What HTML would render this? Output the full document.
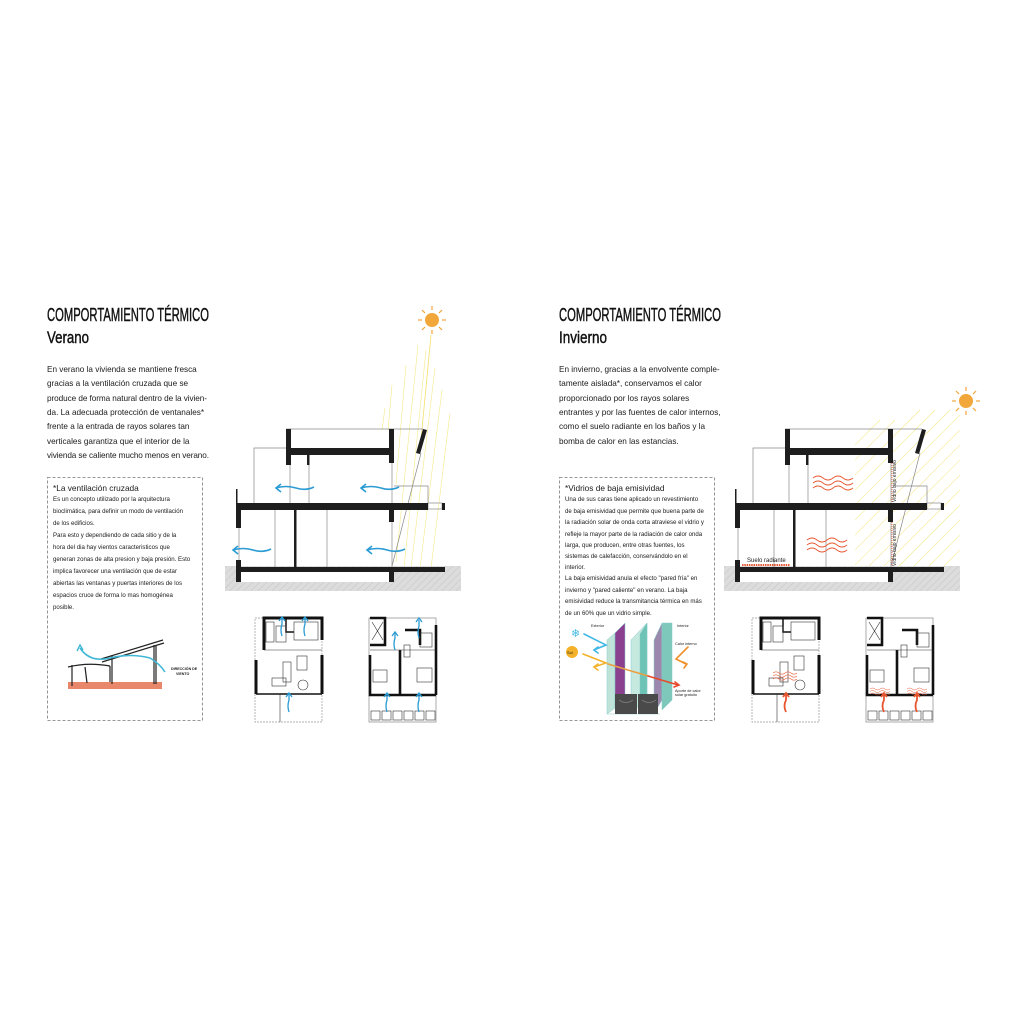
<!DOCTYPE html>
<html><head><meta charset="utf-8"><style>
html,body{margin:0;padding:0;background:#fff;}
svg{display:block;}
text{font-family:"Liberation Sans",sans-serif;fill:#1a1a1a;}
.h{font-family:"Liberation Sans Narrow","Liberation Sans",sans-serif;fill:#111;stroke:#111;stroke-width:0.45;}
.b{font-size:8.2px;}
.s{font-size:6.1px;}
</style></head><body>
<svg width="1024" height="1024" viewBox="0 0 1024 1024" xmlns="http://www.w3.org/2000/svg">
<defs>
<pattern id="hat" width="5" height="5" patternUnits="userSpaceOnUse" patternTransform="rotate(45)">
<rect width="5" height="5" fill="#dcdcdc"/><line x1="0" y1="0" x2="0" y2="5" stroke="#c4c4c4" stroke-width="1"/>
</pattern>
<g id="sec">
<rect x="225" y="566" width="236" height="25" fill="url(#hat)"/>
<rect x="241" y="572" width="148" height="10" fill="#fff"/>
<g fill="none" stroke="#888" stroke-width="0.7">
<line x1="286" y1="429" x2="423" y2="429"/>
<polyline points="286,448 254,448 254,503"/>
<polyline points="394,486 428,486 428,503"/>
<line x1="275" y1="509" x2="275" y2="567"/>
<line x1="327" y1="509" x2="327" y2="567"/>
<line x1="421" y1="453" x2="392" y2="566"/>
<rect x="428" y="503" width="14" height="6"/>
<line x1="290" y1="465" x2="290" y2="503"/>
<line x1="309" y1="465" x2="309" y2="503"/>
<line x1="392" y1="463" x2="392" y2="503"/>
<line x1="239" y1="528" x2="239" y2="560"/>
<line x1="392" y1="522" x2="392" y2="567"/>
</g>
<g fill="#1e1e1e">
<rect x="286" y="429" width="5" height="36"/>
<rect x="286" y="448" width="108" height="7"/>
<rect x="389" y="429" width="5" height="34"/>
<rect x="307" y="454" width="2.5" height="11"/>
<rect x="236" y="503" width="192" height="7"/>
<rect x="442" y="503" width="3" height="7"/>
<rect x="236" y="489" width="1.5" height="14"/>
<rect x="236" y="509" width="5" height="19"/>
<rect x="236" y="560" width="5" height="22"/>
<rect x="294" y="509" width="2.5" height="58"/>
<rect x="389" y="509" width="5" height="13"/>
<rect x="389" y="567" width="5" height="15"/>
<rect x="241" y="567" width="204" height="5"/>
<polygon points="423,429 427,430 420,454 416,453"/>
</g>
</g>
<g id="plan1">
<rect x="255" y="618" width="67" height="104" fill="none" stroke="#999" stroke-width="0.7" stroke-dasharray="2,1"/>
<g fill="none" stroke="#111" stroke-width="3">
<polyline points="264,650 264,618 322,618 322,640"/>
<polyline points="256,660 256,694"/>
<polyline points="322,655 322,694"/>
<line x1="256" y1="694" x2="322" y2="694" stroke-width="1.4"/>
<polyline points="286,618 286,632 294,632" stroke-width="1.5"/>
</g>
<g fill="none" stroke="#333" stroke-width="0.6">
<rect x="266" y="622" width="8" height="20"/>
<rect x="276" y="626" width="10" height="16"/>
<rect x="294" y="622" width="24" height="18"/>
<line x1="264" y1="650" x2="322" y2="650"/>
<rect x="283" y="662" width="8" height="20"/>
<rect x="272" y="678" width="14" height="8"/>
<circle cx="303" cy="685" r="5"/>
<rect x="297" y="656" width="10" height="14"/>
<line x1="280" y1="694" x2="280" y2="722"/>
</g>
</g>
<g id="plan2">
<rect x="369" y="618" width="67" height="104" fill="none" stroke="#888" stroke-width="0.7"/>
<g fill="none" stroke="#111" stroke-width="2.6">
<polyline points="370,618 385,618 385,645 370,645"/>
<polyline points="370,655 370,695 436,695"/>
<polyline points="436,625 436,695"/>
<polyline points="405,630 420,630 420,645"/>
<line x1="400" y1="650" x2="400" y2="695"/>
</g>
<g fill="none" stroke="#333" stroke-width="0.6">
<line x1="372" y1="622" x2="383" y2="640"/>
<line x1="372" y1="640" x2="383" y2="622"/>
<rect x="373" y="670" width="14" height="12"/>
<rect x="417" y="668" width="15" height="14"/>
<line x1="370" y1="650" x2="436" y2="650"/>
<rect x="420" y="633" width="12" height="14"/>
<rect x="404" y="645" width="6" height="12"/>
<g>
<rect x="371" y="711" width="9" height="9"/><rect x="382" y="711" width="9" height="9"/><rect x="393" y="711" width="9" height="9"/><rect x="404" y="711" width="9" height="9"/><rect x="415" y="711" width="9" height="9"/><rect x="426" y="711" width="9" height="9"/>
</g>
</g>
</g>
<g id="sun">
<circle cx="0" cy="0" r="7" fill="#f2a73a"/>
<g stroke="#f2a73a" stroke-width="1.2">
<line x1="0" y1="-10" x2="0" y2="-14"/><line x1="0" y1="10" x2="0" y2="14"/>
<line x1="-10" y1="0" x2="-14" y2="0"/><line x1="10" y1="0" x2="14" y2="0"/>
<line x1="7" y1="7" x2="10" y2="10"/><line x1="-7" y1="-7" x2="-10" y2="-10"/>
<line x1="7" y1="-7" x2="10" y2="-10"/><line x1="-7" y1="7" x2="-10" y2="10"/>
</g>
</g>
<g id="wav" fill="none" stroke="#e8552f" stroke-width="1">
<path d="M0,0 q5,-4 10,0 t10,0 t10,0 t10,0"/>
<path d="M0,5 q5,-4 10,0 t10,0 t10,0 t10,0"/>
<path d="M0,10 q5,-4 10,0 t10,0 t10,0 t10,0"/>
</g>
<clipPath id="wc"><polygon points="855,400 960,385 960,568 855,568"/></clipPath>
</defs>

<!-- LEFT PAGE -->
<text class="h" x="47" y="321" font-size="18" textLength="162" lengthAdjust="spacingAndGlyphs">COMPORTAMIENTO TÉRMICO</text>
<text class="h" x="47" y="343" font-size="17" textLength="42" lengthAdjust="spacingAndGlyphs">Verano</text>
<text class="b" x="47" y="372">En verano la vivienda se mantiene fresca</text>
<text class="b" x="47" y="386">gracias a la ventilación cruzada que se</text>
<text class="b" x="47" y="401" textLength="160">produce de forma natural dentro de la vivien-</text>
<text class="b" x="47" y="415" textLength="157">da. La adecuada protección de ventanales*</text>
<text class="b" x="47" y="429">frente a la entrada de rayos solares tan</text>
<text class="b" x="47" y="444">verticales  garantiza que el interior de la</text>
<text class="b" x="47" y="458" textLength="162">vivienda se caliente mucho menos en verano.</text>

<rect x="47.5" y="477.5" width="155" height="243" fill="none" stroke="#777" stroke-width="0.8" stroke-dasharray="3,2"/>
<text x="53" y="491" font-size="8.3">*La ventilación cruzada</text>
<text class="s" x="53" y="501">Es un concepto utilizado por la arquitectura</text>
<text class="s" x="53" y="513">bioclimática, para definir un modo de ventilación</text>
<text class="s" x="53" y="525">de los edificios.</text>
<text class="s" x="53" y="537">Para esto y dependiendo de cada sitio y de la</text>
<text class="s" x="53" y="549">hora del dia hay vientos caracteristicos que</text>
<text class="s" x="53" y="561">generan zonas de alta presion y baja presión. Esto</text>
<text class="s" x="53" y="573">implica favorecer una ventilación que de estar</text>
<text class="s" x="53" y="585">abiertas las ventanas y puertas interiores de los</text>
<text class="s" x="53" y="597">espacios cruce de forma lo mas homogénea</text>
<text class="s" x="53" y="609">posible.</text>
<!-- sketch -->
<rect x="68" y="682" width="94" height="7" fill="#e8876a"/>
<g fill="none" stroke="#222" stroke-width="1.2">
<path d="M68,667 q20,-5 42,-1"/>
<line x1="72" y1="665" x2="72" y2="686"/>
<line x1="85" y1="667" x2="87" y2="683"/>
<line x1="110" y1="666" x2="110" y2="682"/>
<line x1="101" y1="659" x2="163" y2="640"/>
<line x1="102" y1="662" x2="164" y2="643"/>
<line x1="112" y1="655" x2="112" y2="684"/>
<line x1="154" y1="645" x2="154" y2="684"/>
<line x1="156" y1="645" x2="156" y2="684"/>
</g>
<path d="M80,648 q10,15 30,10 t40,0 q10,6 15,14" fill="none" stroke="#3fb8d6" stroke-width="1.6"/>
<path d="M77,651 l3,-6 l3,5" fill="none" stroke="#3fb8d6" stroke-width="1.4"/>
<text x="171" y="670" font-size="3.6" font-weight="bold">DIRECCIÓN DE</text>
<text x="176" y="675" font-size="3.6" font-weight="bold">VIENTO</text>

<!-- summer section -->
<g stroke="#f3ea8a" stroke-width="0.6">
<line x1="385" y1="408" x2="382" y2="430"/>
<line x1="392" y1="385" x2="388" y2="430"/>
<line x1="406" y1="365" x2="396" y2="484"/>
<line x1="418" y1="345" x2="396" y2="562"/>
<line x1="426" y1="350" x2="404" y2="568"/>
<line x1="435" y1="368" x2="411" y2="568"/>
<line x1="442" y1="390" x2="420" y2="568"/>
<line x1="450" y1="413" x2="431" y2="568"/>
</g>
<line x1="431" y1="335" x2="420" y2="450" stroke="#f3e06a" stroke-width="0.8"/>
<use href="#sun" transform="translate(432,320)"/>
<use href="#sec"/>
<g fill="none" stroke="#2b9bd4" stroke-width="1.6">
<path d="M276,488 q10,-3 20,0 t18,-1"/><path d="M281,484 l-5,4 l5,4"/>
<path d="M361,488 q10,-3 20,0 t18,-1"/><path d="M366,484 l-5,4 l5,4"/>
<path d="M233,550 q10,-3 20,0 t18,-1"/><path d="M238,546 l-5,4 l5,4"/>
<path d="M367,550 q10,-3 20,0 t18,-1"/><path d="M372,546 l-5,4 l5,4"/>
</g>
<use href="#plan1"/>
<use href="#plan2"/>
<g fill="none" stroke="#2b9bd4" stroke-width="1.3">
<path d="M282,636 q-2,-6 0,-12 v-6"/><path d="M279,621 l3,-4 l3,4"/>
<path d="M305,636 q-2,-6 0,-12 v-6"/><path d="M302,621 l3,-4 l3,4"/>
<path d="M289,712 q-2,-6 0,-12 v-6"/><path d="M286,697 l3,-4 l3,4"/>
<path d="M419,638 q-2,-6 0,-12 v-6"/><path d="M416,622 l3,-4 l3,4"/>
<path d="M395,650 q-2,-6 0,-12 v-6"/><path d="M392,636 l3,-4 l3,4"/>
<path d="M387,712 q-2,-6 0,-12 v-6"/><path d="M384,697 l3,-4 l3,4"/>
<path d="M419,712 q-2,-6 0,-12 v-6"/><path d="M416,697 l3,-4 l3,4"/>
</g>

<!-- RIGHT PAGE -->
<text class="h" x="559" y="321" font-size="18" textLength="162" lengthAdjust="spacingAndGlyphs">COMPORTAMIENTO TÉRMICO</text>
<text class="h" x="559" y="343" font-size="17" textLength="48" lengthAdjust="spacingAndGlyphs">Invierno</text>
<text class="b" x="559" y="372">En invierno, gracias a la envolvente comple-</text>
<text class="b" x="559" y="386">tamente aislada*, conservamos el calor</text>
<text class="b" x="559" y="401">proporcionado por los rayos solares</text>
<text class="b" x="559" y="415">entrantes y por las fuentes de calor internos,</text>
<text class="b" x="559" y="429">como el suelo radiante en los baños y la</text>
<text class="b" x="559" y="444">bomba de calor en las estancias.</text>

<rect x="559.5" y="477.5" width="155" height="243" fill="none" stroke="#777" stroke-width="0.8" stroke-dasharray="3,2"/>
<text x="565" y="491" font-size="8.3">*Vidrios de baja emisividad</text>
<text class="s" x="565" y="501">Una de sus caras tiene aplicado un revestimiento</text>
<text class="s" x="565" y="513">de baja emisividad que permite que buena parte de</text>
<text class="s" x="565" y="524">la radiación solar de onda corta atraviese el vidrio y</text>
<text class="s" x="565" y="536">refleje la mayor parte de la radiación de calor onda</text>
<text class="s" x="565" y="547">larga, que producen, entre otras fuentes, los</text>
<text class="s" x="565" y="558">sistemas de calefacción, conservándolo en el</text>
<text class="s" x="565" y="569">interior.</text>
<text class="s" x="565" y="580">La baja emisividad anula el efecto "pared fría" en</text>
<text class="s" x="565" y="592">invierno y "pared caliente" en verano. La baja</text>
<text class="s" x="565" y="603">emisividad reduce la transmitancia térmica en más</text>
<text class="s" x="565" y="615">de un 60% que un vidrio simple.</text>
<!-- glass diagram -->
<g stroke="#8cc" stroke-width="0.5">
<polygon points="607,640 615,633 615,708 607,714" fill="#bfe3d8"/>
<polygon points="615,633 625,623 625,697 615,708" fill="#8a3f8f"/>
<polygon points="631,640 647,623 647,697 631,714" fill="#c5e8df"/>
<polygon points="640,634 647,623 647,697 640,705" fill="#6cc3b6"/>
<polygon points="654,640 662,623 662,700 654,714" fill="#9c88ac"/>
<polygon points="662,623 672,623 672,700 662,710" fill="#7dc8ba"/>
<line x1="607" y1="714" x2="660" y2="714"/>
</g>
<rect x="615" y="694" width="22" height="20" fill="#4a4a4a"/>
<rect x="638" y="694" width="20" height="20" fill="#4a4a4a"/>
<path d="M619,700 q7,5 14,0" stroke="#777" fill="none"/>
<path d="M642,700 q7,5 14,0" stroke="#777" fill="none"/>
<text x="571" y="637" font-size="11" style="fill:#3fb8e6">❄</text>
<circle cx="572" cy="652" r="6" fill="#f4b22a"/>
<text x="567" y="654" font-size="4">Sol</text>
<g fill="none" stroke-width="1.6" stroke-linecap="round">
<path d="M584,634 l22,11 l-12,5" stroke="#3fb8e6"/><path d="M598,647 l-4,3 l4,3" stroke="#3fb8e6"/>
<path d="M583,654 l23,9 l-12,4" stroke="#f4b22a"/><path d="M598,664 l-4,3 l4,3" stroke="#f4b22a"/>
<path d="M608,664 l40,12" stroke="#e9a040"/>
<path d="M648,676 l30,9" stroke="#e64a2a"/><path d="M675,682 l4,3 l-5,2" stroke="#e64a2a"/>
<path d="M688,647 l-12,12 l10,5" stroke="#f0902a"/><path d="M683,662 l4,2 l-3,4" stroke="#f0902a"/>
</g>
<text x="591" y="627" font-size="3.8">Exterior</text>
<text x="677" y="627" font-size="3.8">Interior</text>
<text x="675" y="645" font-size="3.8">Calor interno</text>
<text x="675" y="692" font-size="3.8">Aporte de calor</text>
<text x="675" y="696" font-size="3.8">solar gratuito</text>

<!-- winter section -->
<g clip-path="url(#wc)" stroke="#f3ea8a" stroke-width="0.6">
<line x1="880" y1="420" x2="780" y2="520"/><line x1="895" y1="420" x2="795" y2="520"/>
<line x1="920" y1="410" x2="760" y2="570"/><line x1="935" y1="410" x2="775" y2="570"/>
<line x1="950" y1="410" x2="790" y2="570"/><line x1="965" y1="410" x2="805" y2="570"/>
<line x1="965" y1="425" x2="820" y2="570"/><line x1="965" y1="440" x2="835" y2="570"/>
<line x1="965" y1="455" x2="850" y2="570"/><line x1="965" y1="470" x2="865" y2="570"/>
<line x1="965" y1="485" x2="880" y2="570"/><line x1="965" y1="500" x2="895" y2="570"/>
<line x1="965" y1="515" x2="910" y2="570"/><line x1="965" y1="530" x2="925" y2="570"/>
<line x1="965" y1="545" x2="940" y2="570"/>
</g>
<use href="#sun" transform="translate(966,401)"/>
<use href="#sec" transform="translate(499,0)"/>
<g stroke="#e8552f" stroke-width="0.8" stroke-dasharray="1,1">
<line x1="892" y1="463" x2="892" y2="503"/><line x1="892" y1="522" x2="892" y2="566"/>
</g>
<line x1="742" y1="565" x2="790" y2="565" stroke="#e8552f" stroke-width="2" stroke-dasharray="1.5,0.8"/>
<text x="747" y="562" font-size="6">Suelo radiante</text>
<text font-size="5" transform="translate(896,502) rotate(-90)">Vidrio bajo emisivo</text>
<text font-size="5" transform="translate(896,566) rotate(-90)">Vidrio bajo emisivo</text>
<use href="#wav" transform="translate(813,478)"/>
<use href="#wav" transform="translate(807,540)"/>
<use href="#plan1" transform="translate(497,0)"/>
<use href="#plan2" transform="translate(497,0)"/>
<g transform="translate(773,673) scale(0.6)"><use href="#wav"/></g>
<g transform="translate(870,689) scale(0.5)"><use href="#wav"/></g>
<g transform="translate(907,689) scale(0.5)"><use href="#wav"/></g>
<g fill="none" stroke="#e8552f" stroke-width="1.8">
<path d="M786,712 q-3,-6 0,-12 v-6"/><path d="M783,697 l3,-4 l3,4"/>
<path d="M884,712 q-3,-6 0,-12 v-6"/><path d="M881,697 l3,-4 l3,4"/>
<path d="M917,712 q-3,-6 0,-12 v-6"/><path d="M914,697 l3,-4 l3,4"/>
</g>
</svg>
</body></html>
